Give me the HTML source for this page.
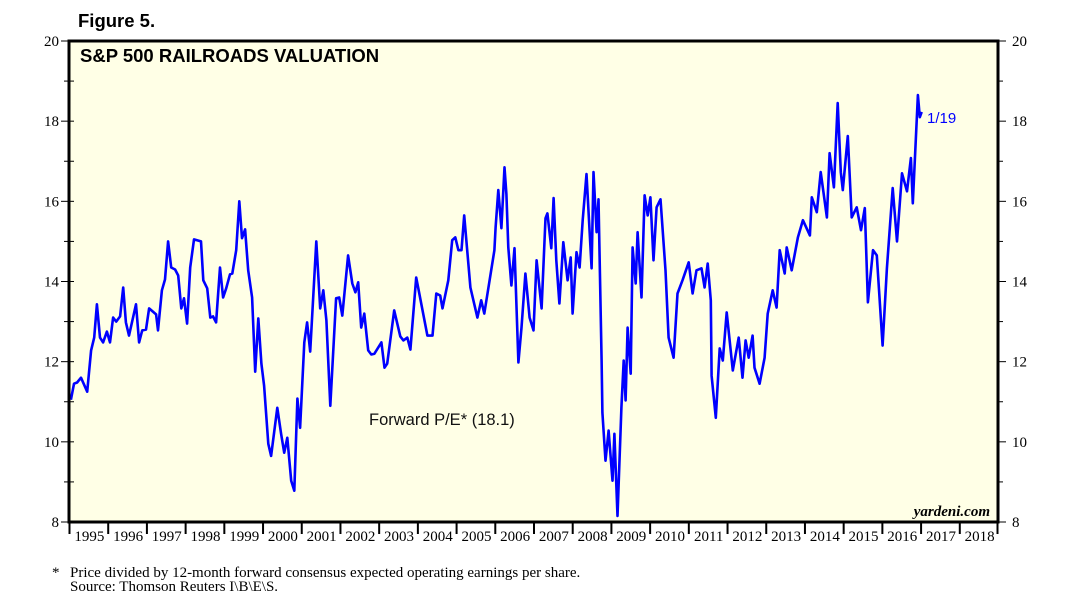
<!DOCTYPE html>
<html><head><meta charset="utf-8"><style>
body{margin:0;background:#fff;width:1065px;height:613px;overflow:hidden}
svg{display:block}
.serif{font-family:"Liberation Serif",serif}
.sans{font-family:"Liberation Sans",sans-serif}
</style></head><body>
<svg id="chart" width="1065" height="613">
<text x="78" y="27" class="sans" font-size="18.5" font-weight="bold">Figure 5.</text>
<rect x="69" y="41" width="929" height="481" fill="#ffffe6"/>
<g id="axes"></g>
<path id="line" fill="none" stroke="#0000ff" stroke-width="2.6" stroke-linejoin="round"/>
<rect x="69" y="41" width="929" height="481" fill="none" stroke="#000" stroke-width="3"/>
<text x="80" y="62" class="sans" font-size="18.5" font-weight="bold">S&amp;P 500 RAILROADS VALUATION</text>
<text x="369" y="425" class="sans" font-size="16.5" fill="#111">Forward P/E* (18.1)</text>
<text x="927" y="123" class="sans" font-size="15" fill="#0000ff">1/19</text>
<text x="990" y="516" class="serif" font-size="15" font-weight="bold" font-style="italic" text-anchor="end">yardeni.com</text>
<text x="52" y="577" class="serif" font-size="15">*</text>
<text x="70" y="577" class="serif" font-size="15">Price divided by 12-month forward consensus expected operating earnings per share.</text>
<text x="70" y="591" class="serif" font-size="15">Source: Thomson Reuters I\B\E\S.</text>
</svg>
<script>
const yearLabels=[1995,1996,1997,1998,1999,2000,2001,2002,2003,2004,2005,2006,2007,2008,2009,2010,2011,2012,2013,2014,2015,2016,2017,2018];
const yTicks=[8,10,12,14,16,18,20];
const dates=[1995.05,1995.13,1995.21,1995.31,1995.47,1995.57,1995.65,1995.72,1995.80,1995.88,1995.98,1996.06,1996.14,1996.22,1996.32,1996.40,1996.47,1996.55,1996.73,1996.81,1996.89,1996.99,1997.07,1997.25,1997.30,1997.40,1997.48,1997.56,1997.64,1997.74,1997.82,1997.90,1997.97,1998.05,1998.13,1998.23,1998.41,1998.47,1998.57,1998.65,1998.72,1998.80,1998.90,1998.98,1999.06,1999.16,1999.22,1999.32,1999.40,1999.47,1999.55,1999.63,1999.73,1999.81,1999.89,1999.97,2000.04,2000.15,2000.22,2000.38,2000.48,2000.56,2000.64,2000.74,2000.82,2000.90,2000.97,2001.08,2001.15,2001.23,2001.39,2001.49,2001.57,2001.65,2001.75,2001.90,2001.98,2002.06,2002.21,2002.32,2002.40,2002.47,2002.55,2002.63,2002.73,2002.81,2002.89,2003.07,2003.15,2003.22,2003.40,2003.56,2003.64,2003.74,2003.82,2003.97,2004.05,2004.26,2004.39,2004.49,2004.59,2004.65,2004.80,2004.90,2004.98,2005.06,2005.14,2005.21,2005.37,2005.55,2005.65,2005.73,2005.99,2006.02,2006.09,2006.17,2006.25,2006.30,2006.35,2006.43,2006.51,2006.61,2006.69,2006.79,2006.90,2007.00,2007.08,2007.21,2007.31,2007.36,2007.46,2007.52,2007.59,2007.67,2007.77,2007.88,2007.96,2008.01,2008.11,2008.19,2008.27,2008.37,2008.50,2008.55,2008.63,2008.68,2008.76,2008.78,2008.86,2008.94,2009.04,2009.09,2009.17,2009.27,2009.33,2009.38,2009.43,2009.51,2009.56,2009.64,2009.69,2009.79,2009.87,2009.95,2010.02,2010.10,2010.18,2010.28,2010.41,2010.49,2010.62,2010.72,2010.85,2011.01,2011.11,2011.21,2011.34,2011.42,2011.50,2011.58,2011.60,2011.71,2011.81,2011.89,2011.99,2012.15,2012.30,2012.40,2012.48,2012.56,2012.66,2012.71,2012.84,2012.97,2013.05,2013.18,2013.28,2013.36,2013.49,2013.54,2013.67,2013.83,2013.96,2014.14,2014.19,2014.32,2014.42,2014.58,2014.65,2014.76,2014.86,2014.94,2014.99,2015.12,2015.22,2015.35,2015.46,2015.56,2015.64,2015.77,2015.87,2016.02,2016.13,2016.28,2016.39,2016.52,2016.65,2016.75,2016.80,2016.93,2016.98,2017.03];
const values=[11.05,11.45,11.48,11.6,11.25,12.28,12.6,13.43,12.6,12.48,12.75,12.48,13.1,13.0,13.13,13.85,12.98,12.65,13.43,12.48,12.78,12.8,13.33,13.18,12.78,13.78,14.05,15.0,14.35,14.3,14.15,13.33,13.58,12.95,14.35,15.05,15.0,14.03,13.83,13.1,13.13,12.98,14.35,13.6,13.83,14.18,14.2,14.78,16.0,15.08,15.3,14.28,13.6,11.75,13.08,11.95,11.4,9.95,9.65,10.85,10.2,9.73,10.1,9.03,8.78,11.08,10.35,12.48,12.98,12.25,15.0,13.33,13.78,13.03,10.9,13.58,13.6,13.15,14.65,13.95,13.73,13.98,12.85,13.2,12.28,12.18,12.2,12.48,11.85,11.95,13.28,12.63,12.53,12.6,12.3,14.1,13.7,12.65,12.65,13.7,13.65,13.33,14.03,15.03,15.1,14.78,14.78,15.65,13.85,13.1,13.53,13.2,14.78,15.35,16.28,15.33,16.85,16.18,14.85,13.9,14.83,11.98,12.85,14.2,13.1,12.78,14.53,13.33,15.58,15.7,14.83,16.08,14.53,13.45,14.98,14.03,14.6,13.2,14.73,14.35,15.53,16.68,14.33,16.73,15.23,16.05,12.03,10.73,9.53,10.28,9.03,10.2,8.15,10.85,12.03,11.03,12.85,11.7,14.85,13.95,15.23,13.6,16.15,15.65,16.1,14.53,15.85,16.05,14.28,12.6,12.1,13.7,14.03,14.48,13.7,14.28,14.33,13.85,14.45,13.53,11.65,10.6,12.33,12.03,13.23,11.78,12.6,11.6,12.53,12.1,12.65,11.85,11.45,12.1,13.2,13.78,13.35,14.78,14.2,14.85,14.28,15.1,15.53,15.15,16.1,15.73,16.73,15.6,17.2,16.35,18.45,16.73,16.28,17.63,15.6,15.85,15.28,15.83,13.48,14.78,14.65,12.4,14.33,16.33,15.0,16.7,16.25,17.08,15.95,18.65,18.1,18.23];
const L=69,R=998,T=41,B=522;
function xs(t){return L+(t-1995)*(R-L)/24;}
function ys(v){return B-(v-8)*(B-T)/12;}
const NS='http://www.w3.org/2000/svg';
const ax=document.getElementById('axes');
function ln(x1,y1,x2,y2,w){const e=document.createElementNS(NS,'line');e.setAttribute('x1',x1);e.setAttribute('y1',y1);e.setAttribute('x2',x2);e.setAttribute('y2',y2);e.setAttribute('stroke','#000');e.setAttribute('stroke-width',w||1);ax.appendChild(e);return e;}
for(let v=8;v<=20;v++){const y=ys(v);const major=v%2===0;
 const a=ln(L-(major?8:5),y,L,y);
 
 
 const b=ln(R,y,R+(major?8:5),y);
 
 
 const c=ln(L,y,L+5,y);
 
 
}
yTicks.forEach(v=>{const y=ys(v);
 const t1=document.createElementNS(NS,'text');t1.setAttribute('x',L-10);t1.setAttribute('y',y+5);t1.setAttribute('text-anchor','end');t1.setAttribute('class','serif');t1.setAttribute('font-size','15');t1.textContent=v;
 
 
 ax.appendChild(t1);
 const t2=document.createElementNS(NS,'text');t2.setAttribute('x',R+14);t2.setAttribute('y',y+5);t2.setAttribute('class','serif');t2.setAttribute('font-size','15');t2.textContent=v;
 
 
 ax.appendChild(t2);
});
yearLabels.forEach(yr=>{const x=xs(yr);
 const tk=ln(x+0.5,B,x+0.5,B+12,2);
 
 
 const t=document.createElementNS(NS,'text');t.setAttribute('x',(x+xs(yr+1))/2+1);t.setAttribute('y',B+19);t.setAttribute('text-anchor','middle');t.setAttribute('class','serif');t.setAttribute('font-size','15');t.textContent=yr;
 
 
 ax.appendChild(t);
});
const tkEnd=ln(R-0.5,B,R-0.5,B+12,2);


let d='';dates.forEach((t,i)=>{d+=(i?'L':'M')+xs(t).toFixed(1)+','+ys(values[i]).toFixed(1);});
document.getElementById('line').setAttribute('d',d);
</script>
</body></html>
